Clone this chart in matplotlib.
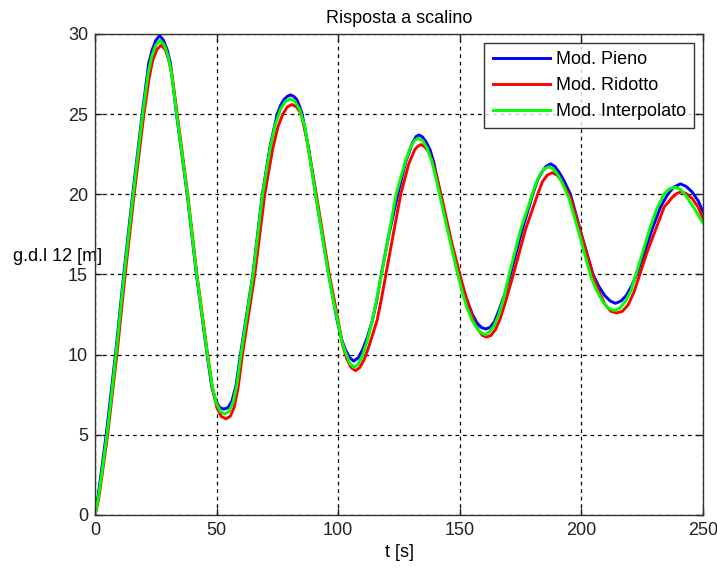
import matplotlib
matplotlib.use("Agg")
import matplotlib.pyplot as plt

plt.rcParams["font.family"] = ["Liberation Sans", "DejaVu Sans"]

# time [s] and displacement [m]
t_pieno = [0, 1.2, 2.3, 4.6, 6.5, 8.4, 11.8, 15.5, 19.4, 22.1, 23.5, 25.0, 26.6, 28.2,
           29.7, 31.0, 33.5, 35.7, 37.9, 41.7, 44.0, 46.1, 48.0, 49.7, 51.3, 53.0,
           54.7, 56.3, 58.0, 59.8, 64.9, 68.8, 72.0, 74.9, 76.3, 77.6, 79.0, 80.4,
           81.8, 83.0, 84.1, 85.2, 88.0, 90.7, 96.1, 98.0, 99.6, 101.5, 103.0, 104.8,
           106.4, 108.2, 110.0, 112.0, 114.0, 116.0, 117.7, 121.0, 124.5, 127.7,
           130.5, 132.0, 133.1, 134.5, 136.0, 137.7, 139.3, 142.0, 145.5, 149.3,
           151.3, 153.2, 155.2, 157.0, 158.8, 160.6, 162.4, 164.2, 166.3, 168.5,
           170.8, 175.5, 180.0, 182.0, 183.8, 185.5, 187.3, 189.0, 190.5, 192.5,
           195.5, 200.0, 204.8, 207.0, 209.5, 211.8, 214.0, 216.3, 218.5, 220.7,
           222.7, 226.0, 229.0, 232.5, 235.5, 238.0, 240.7, 243.0, 245.5, 248.0, 250.0]
y_pieno = [0, 1.1, 2.35, 5.0, 7.5, 10.0, 15.0, 20.0, 25.0, 28.2, 29.0, 29.6, 29.9, 29.6,
           29.0, 28.2, 25.0, 22.5, 20.0, 15.0, 12.4, 10.0, 8.0, 7.1, 6.7, 6.6,
           6.7, 7.1, 8.1, 10.0, 15.0, 20.0, 23.0, 25.0, 25.55, 25.9, 26.1, 26.2,
           26.1, 25.9, 25.5, 25.0, 22.7, 20.0, 15.0, 13.4, 12.1, 10.9, 10.3, 9.8,
           9.6, 9.8, 10.3, 11.1, 12.1, 13.5, 15.0, 17.6, 20.0, 22.0,
           23.2, 23.6, 23.7, 23.6, 23.3, 22.8, 22.0, 20.0, 17.6, 15.0,
           13.9, 13.3, 12.5, 12.0, 11.7, 11.6, 11.7, 12.05, 12.85, 13.8,
           15.0, 17.7, 20.0, 20.9, 21.4, 21.75, 21.9, 21.75, 21.45, 20.95,
           20.0, 17.5, 15.0, 14.3, 13.7, 13.35, 13.2, 13.35, 13.7, 14.3,
           15.0, 16.4, 17.8, 19.2, 20.0, 20.45, 20.65, 20.5, 20.15, 19.6, 18.9]

t_ridotto = [0, 1.5, 3.0, 5.2, 7.0, 9.0, 12.4, 16.1, 20.1, 22.3, 23.8, 25.5, 27.2,
             28.8, 30.3, 31.6, 33.8, 38.1, 41.9, 46.3, 48.3, 50.1, 51.9, 53.8, 55.6,
             57.2, 58.8, 60.6, 65.7, 69.8, 73.0, 75.2, 77.2, 79.1, 81.0, 82.9, 84.8,
             87.0, 91.0, 96.3, 98.4, 101.8, 103.5, 105.3, 107.1, 108.9, 110.7, 112.8,
             116.0, 117.8, 119.6, 122.5, 125.7, 129.0, 131.5, 132.8, 134.0, 135.3,
             137.0, 138.8, 140.7, 143.0, 146.5, 150.0, 152.0, 154.0, 155.8, 157.6,
             159.3, 161.0, 162.8, 164.6, 166.5, 168.8, 172.0, 177.0, 182.0, 184.0,
             186.0, 188.0, 190.0, 192.0, 195.5, 200.5, 205.0, 207.3, 209.8, 212.2,
             214.5, 216.8, 219.2, 221.6, 224.0, 227.0, 230.5, 234.0, 237.3, 239.2,
             241.0, 243.0, 245.5, 248.0, 250.0]
y_ridotto = [0, 1.0, 2.6, 5.0, 7.4, 10.0, 15.0, 20.0, 25.0, 27.3, 28.4, 29.05, 29.3,
             29.05, 28.4, 27.5, 25.0, 20.0, 15.0, 10.0, 7.9, 6.7, 6.15, 6.0, 6.15,
             6.7, 7.9, 10.0, 15.0, 20.0, 22.8, 24.2, 25.0, 25.45, 25.6, 25.45, 25.0,
             23.5, 20.0, 15.0, 13.4, 10.6, 9.75, 9.2, 9.0, 9.2, 9.7, 10.6,
             12.15, 13.5, 15.0, 17.4, 20.0, 21.9, 22.8, 23.0, 23.1, 23.0,
             22.7, 22.0, 21.0, 19.5, 17.1, 15.0, 13.9, 12.9, 12.1, 11.55,
             11.2, 11.1, 11.2, 11.55, 12.2, 13.3, 15.0, 17.8, 20.0, 20.8,
             21.2, 21.35, 21.2, 20.8, 19.8, 17.2, 14.8, 13.9, 13.1, 12.7,
             12.6, 12.7, 13.1, 13.9, 15.0, 16.4, 17.8, 19.2, 19.8, 20.05,
             20.15, 20.05, 19.75, 19.2, 18.5]

t_interp = [0, 1.4, 2.6, 4.9, 6.8, 8.6, 12.0, 15.7, 19.6, 21.8, 23.3, 25.0, 26.8,
            28.5, 30.1, 31.4, 33.6, 38.0, 41.8, 46.2, 48.1, 49.8, 51.6, 53.3, 55.0,
            56.7, 58.3, 60.0, 65.0, 68.9, 72.0, 74.2, 76.3, 78.3, 80.3, 82.2, 84.1,
            86.3, 90.7, 96.0, 98.0, 101.5, 103.0, 104.8, 106.5, 108.2, 110.0, 112.0,
            114.0, 116.0, 117.8, 120.8, 123.8, 127.5, 129.5, 131.3, 133.0, 134.7,
            136.5, 138.4, 140.2, 141.8, 145.5, 149.2, 151.2, 153.0, 154.9, 156.7,
            158.5, 160.3, 162.1, 163.9, 165.8, 168.0, 170.3, 175.0, 179.8, 181.7,
            183.2, 184.8, 186.5, 188.2, 190.0, 192.0, 195.0, 199.5, 204.0, 206.3,
            208.8, 211.1, 213.5, 215.8, 218.2, 220.4, 222.2, 225.0, 228.0, 231.0,
            233.9, 236.2, 238.5, 240.8, 243.0, 246.5, 250.0]
y_interp = [0, 1.1, 2.4, 5.0, 7.5, 10.0, 15.0, 20.0, 25.0, 27.5, 28.6, 29.3, 29.6,
            29.3, 28.6, 27.6, 25.0, 20.0, 15.0, 10.0, 8.1, 7.0, 6.45, 6.3, 6.45,
            7.0, 8.1, 10.0, 15.0, 20.0, 22.9, 24.4, 25.3, 25.8, 25.95, 25.8, 25.3,
            24.2, 20.0, 15.0, 13.4, 10.8, 10.15, 9.45, 9.2, 9.4, 9.95, 10.9,
            12.1, 13.6, 15.0, 17.5, 20.0, 22.0, 22.85, 23.35, 23.5, 23.35,
            22.9, 22.1, 21.0, 19.9, 17.4, 15.0, 13.8, 12.9, 12.2, 11.7,
            11.4, 11.25, 11.4, 11.75, 12.4, 13.5, 15.0, 17.8, 20.0, 20.85,
            21.3, 21.6, 21.7, 21.6, 21.3, 20.75, 19.7, 17.3, 14.8, 14.0,
            13.3, 12.9, 12.75, 12.9, 13.35, 14.0, 14.9, 16.3, 17.8, 19.1,
            20.0, 20.35, 20.45, 20.3, 19.9, 19.1, 18.2]

labels = ["Mod. Pieno", "Mod. Ridotto", "Mod. Interpolato"]
x_ticks = [0, 50, 100, 150, 200, 250]
y_ticks = [0, 5, 10, 15, 20, 25, 30]

fig = plt.figure(figsize=(7.17, 5.70), dpi=100)
ax = fig.add_axes([0.1325, 0.0965, 0.848, 0.8439])

ax.plot(t_pieno, y_pieno, color="#0000ff", lw=2.1, label=labels[0])
ax.plot(t_ridotto, y_ridotto, color="#ff0000", lw=2.1, label=labels[1])
ax.plot(t_interp, y_interp, color="#00ff00", lw=2.1, label=labels[2])

ax.set_xlim(0, 250)
ax.set_ylim(0, 30)
ax.set_xticks(x_ticks)
ax.set_yticks(y_ticks)
ax.grid(True, color="black", lw=0.9, linestyle=(0, (3, 3)))
ax.tick_params(direction="in", length=5, width=1, top=True, right=True,
               labelsize=13, colors="#222222", pad=5)
for sp in ax.spines.values():
    sp.set_color("#333333")
    sp.set_linewidth(1.0)

ax.set_title("Risposta a scalino", fontsize=13, pad=8)
ax.set_xlabel("t [s]", fontsize=13, labelpad=4)
ax.set_ylabel("g.d.l 12 [m]", fontsize=13, rotation=0)
ax.yaxis.set_label_coords(-0.062, 0.52)

leg = ax.legend(loc="upper right", fontsize=13, frameon=True, fancybox=False,
                borderaxespad=0.5, handlelength=3.2, handletextpad=0.3,
                labelspacing=0.5, borderpad=0.45)
leg.get_frame().set_edgecolor("black")
leg.get_frame().set_linewidth(1.0)

fig.savefig("out.png", dpi=100)
